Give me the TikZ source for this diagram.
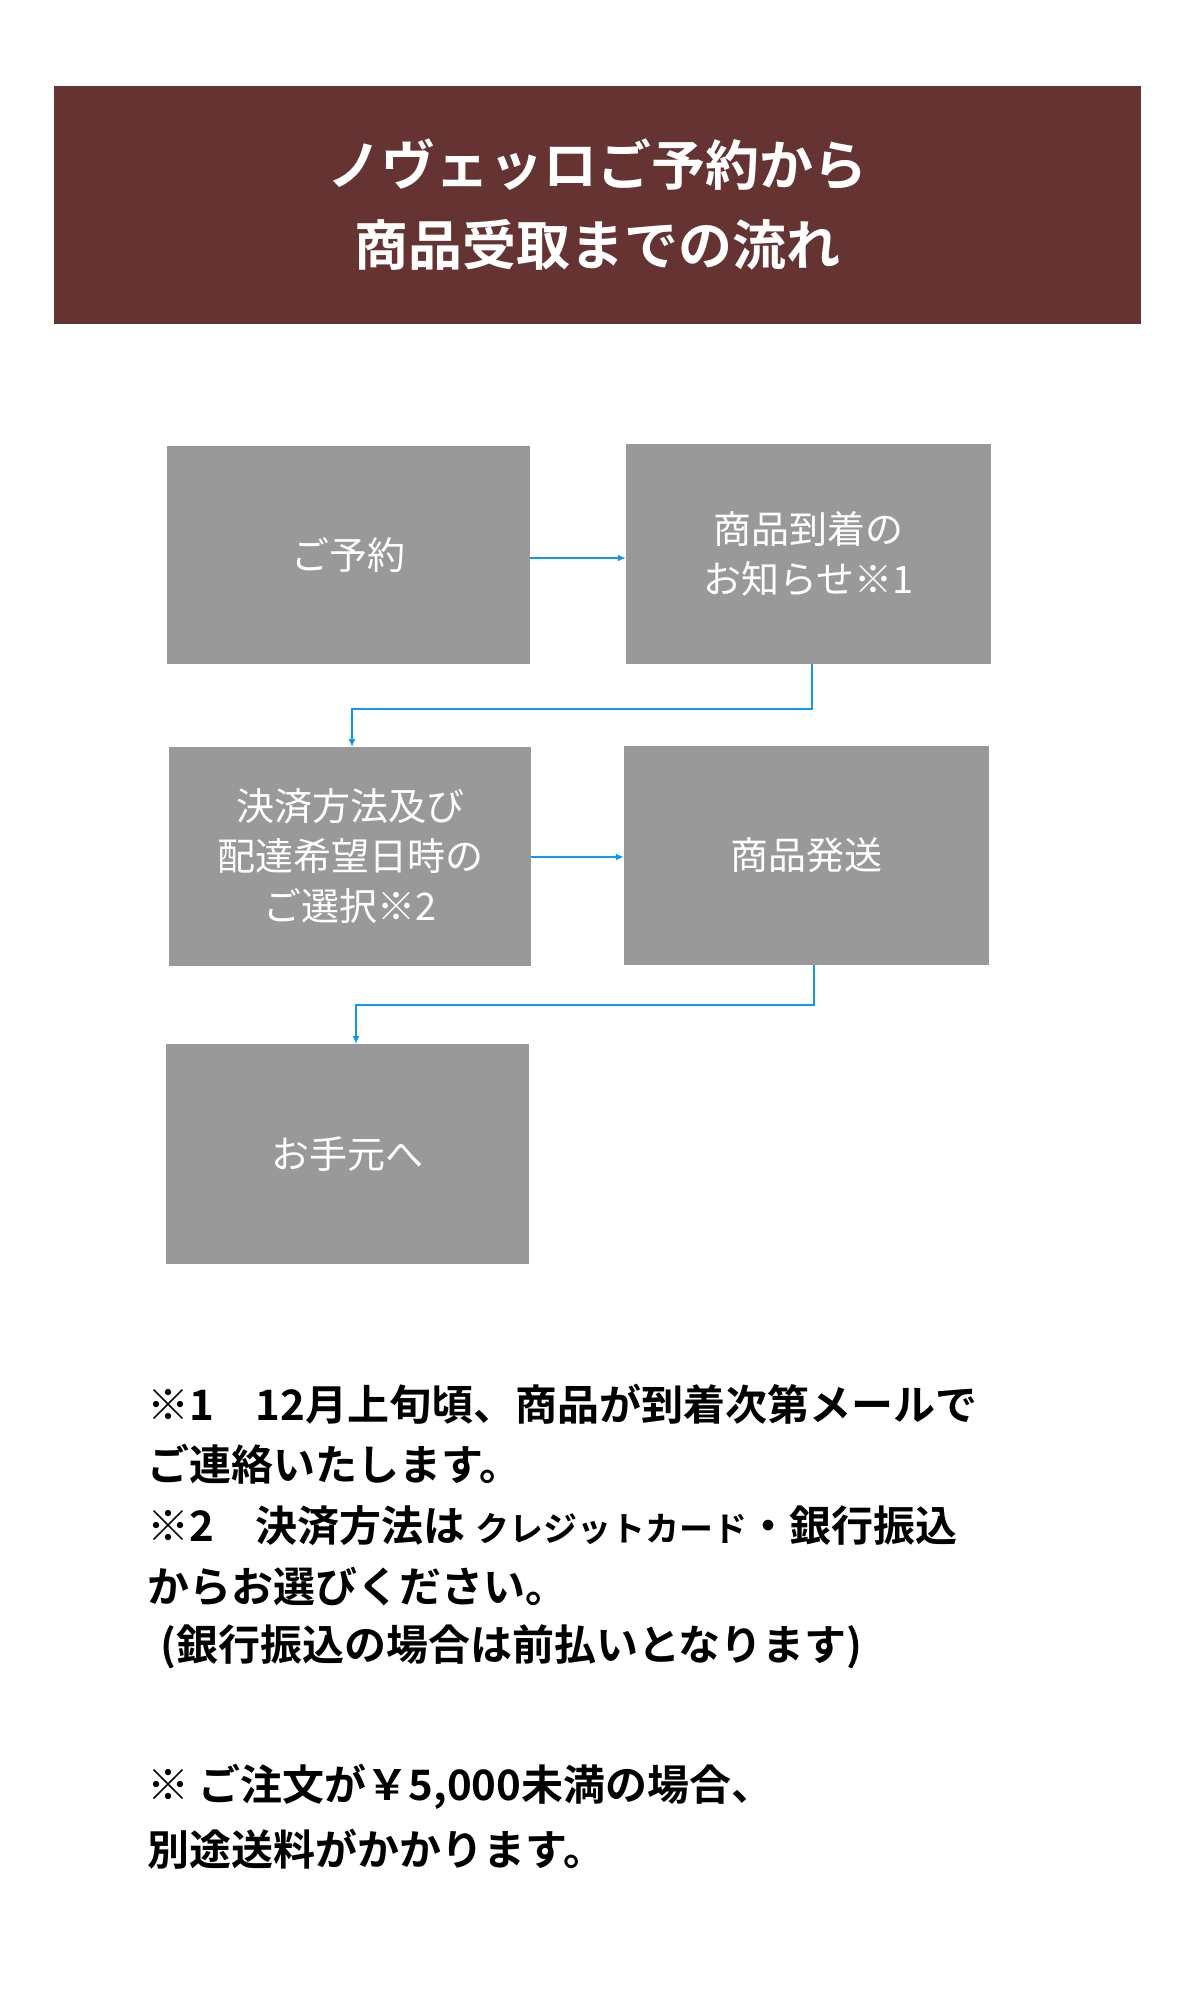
\documentclass[tikz,border=0pt]{standalone}
\usepackage{fontspec}
\setmainfont{Noto Sans CJK JP}
\newfontfamily\jpbold{Noto Sans CJK JP Bold}
\usetikzlibrary{arrows.meta}
\definecolor{hdr}{RGB}{102,51,51}
\definecolor{bx}{RGB}{153,153,153}
\definecolor{ar}{RGB}{20,150,235}
\tikzset{
 flowbox/.style={fill=bx,draw=none,text=white,align=center,font=\fontsize{38}{50}\selectfont,inner sep=0},
 link/.style={draw=ar,line width=2pt,-{Latex[length=8pt,width=7pt]}},
 note/.style={anchor=west,font=\jpbold\fontsize{42}{50}\selectfont,inner sep=0}
}
\begin{document}
\begin{tikzpicture}[x=1pt,y=-1pt]
\useasboundingbox (0,0) rectangle (1200,2000);
\fill[white] (0,0) rectangle (1200,2000);
\fill[hdr] (54,86) rectangle (1141,324);
\node[text=white,align=center,font=\jpbold\fontsize{54}{80}\selectfont] (title) at (597,205) {ノヴェッロご予約から\\商品受取までの流れ};
\node[flowbox,minimum width=363pt,minimum height=218pt] (b1) at (348.5,555) {ご予約};
\node[flowbox,minimum width=365pt,minimum height=220pt] (b2) at (808.5,554) {商品到着の\\お知らせ※1};
\node[flowbox,minimum width=362pt,minimum height=219pt] (b3) at (350,856.5) {決済方法及び\\配達希望日時の\\ご選択※2};
\node[flowbox,minimum width=365pt,minimum height=219pt] (b4) at (806.5,855.5) {商品発送};
\node[flowbox,minimum width=363pt,minimum height=220pt] (b5) at (347.5,1154) {お手元へ};
\draw[link] (b1.east |- 0,558) -- (b2.west |- 0,558);
\draw[link] (812,664) -- (812,709) -- (352,709) -- (352,747);
\draw[link] (b3.east |- 0,857) -- (b4.west |- 0,857);
\draw[link] (814,965) -- (814,1005) -- (356,1005) -- (356,1044);
\node[note] (n1) at (147,1404) {※1\quad 12月上旬頃、商品が到着次第メールで};
\node[note] (n2) at (147,1464) {ご連絡いたします。};
\node[note] (n3) at (147,1526) {※2\quad 決済方法は {\fontsize{34}{40}\selectfont クレジットカード}・銀行振込};
\node[note] (n4) at (147,1587) {からお選びください。};
\node[note] (n5) at (160,1647) {(銀行振込の場合は前払いとなります)};
\node[note] (n6) at (147,1787) {※ ご注文が￥5,000未満の場合、};
\node[note] (n7) at (147,1849) {別途送料がかかります。};
\end{tikzpicture}
\end{document}
